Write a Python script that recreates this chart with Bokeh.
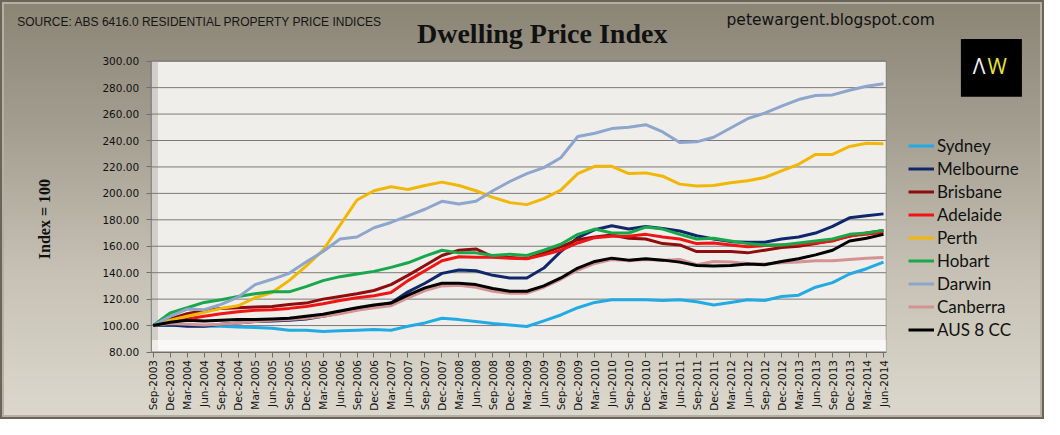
import math
from bokeh.plotting import figure
from bokeh.models import (Range1d, FixedTicker, NumeralTickFormatter, Legend, LegendItem,
                          Label, BoxAnnotation, ColumnDataSource)
from bokeh.embed import file_html
from bokeh.resources import INLINE

quarters = ["Sep-2003", "Dec-2003",
            "Mar-2004", "Jun-2004", "Sep-2004", "Dec-2004",
            "Mar-2005", "Jun-2005", "Sep-2005", "Dec-2005",
            "Mar-2006", "Jun-2006", "Sep-2006", "Dec-2006",
            "Mar-2007", "Jun-2007", "Sep-2007", "Dec-2007",
            "Mar-2008", "Jun-2008", "Sep-2008", "Dec-2008",
            "Mar-2009", "Jun-2009", "Sep-2009", "Dec-2009",
            "Mar-2010", "Jun-2010", "Sep-2010", "Dec-2010",
            "Mar-2011", "Jun-2011", "Sep-2011", "Dec-2011",
            "Mar-2012", "Jun-2012", "Sep-2012", "Dec-2012",
            "Mar-2013", "Jun-2013", "Sep-2013", "Dec-2013",
            "Mar-2014", "Jun-2014"]

y_ticks = [80, 100, 120, 140, 160, 180, 200, 220, 240, 260, 280, 300]

sydney = [100, 100.5, 100, 99.5, 99.5, 99, 98.5, 98, 96.5, 96.5,
          95.5, 96, 96.5, 97, 96.5, 99.5, 102, 105.5, 104.5, 103,
          101.5, 100.5, 99.3, 103.5, 108, 113.5, 117.5, 119.5, 119.5, 119.5,
          119, 119.5, 118, 115.5, 117.5, 119.5, 119, 122, 123, 129,
          132.5, 139, 143, 148]
melbourne = [100, 100.5, 99.5, 99.5, 101, 102, 103, 103.5, 104, 105,
             107, 109.5, 112, 114.5, 117, 125.5, 132, 139.5, 142, 141.5,
             138, 136, 136, 143.5, 156, 166.5, 172.5, 175.5, 173, 175,
             173.5, 171.5, 168, 165.5, 163.5, 163, 163, 165.5, 167, 170,
             175, 181.5, 183, 184.5]
brisbane = [100, 105, 109, 111.5, 113, 113.5, 114, 114.5, 116, 117,
            120, 122, 124, 126.5, 131, 138, 145.5, 153, 157, 158,
            152, 151.5, 150.7, 155, 159.5, 165, 167, 168.5, 166, 165.5,
            162, 161, 156, 156, 156, 155, 157, 159, 160, 162,
            164.5, 167.5, 170, 172]
adelaide = [100, 103, 105, 107, 109, 110.5, 111.5, 112, 113, 114.5,
            116.5, 119, 121, 122.5, 125, 134, 141.5, 149, 152, 151.6,
            151.6, 151, 150.5, 153.5, 157, 162.5, 166.5, 167.5, 167.5, 169,
            167, 165.5, 162, 162.5, 161, 159.6, 160.5, 161, 161.5, 162.5,
            164, 168, 169, 170.5]
perth = [100, 104, 107, 110, 113, 115, 121, 125, 134, 145,
         157, 176, 195, 202, 205, 203, 206, 208.5, 206, 202,
         197, 193, 191.5, 196, 202.5, 215, 220.5, 220.5, 215, 215.5,
         213, 207, 205.5, 206, 208, 209.5, 212, 217, 222, 229.5,
         229.5, 235.5, 238, 237.5]
hobart = [100, 109.5, 113.5, 117.5, 119.5, 122, 124, 125.5, 125.5, 129.5,
          134, 137, 139, 141, 144, 147.5, 152.5, 157, 155, 155,
          153, 154, 153, 157, 161.5, 169, 173, 170, 170, 174.5,
          173, 169, 165.5, 166, 164, 162, 161, 161, 162.5, 164,
          165.5, 169, 170, 172]
darwin = [100, 107, 112.5, 112, 116, 121.5, 131, 135, 139.5, 148,
          156, 165.5, 167, 174, 178, 183, 188, 194, 192, 194,
          202, 209, 215, 219.5, 227, 243, 245.5, 249, 250, 252,
          246.5, 238.5, 239, 242.5, 249.5, 256.5, 260.7, 266, 271, 274,
          274.5, 278, 281, 283]
canberra = [100, 101.5, 101, 100.5, 101, 102, 103, 104, 104.5, 105.5,
            107, 109, 111.5, 113.5, 115, 121, 126.5, 130, 130.5, 129,
            126, 124.5, 124.5, 129, 135, 142, 147, 150, 149, 150,
            149.5, 150, 146, 148.5, 148, 147, 146.5, 147.5, 148, 149,
            149, 150, 151, 151.5]
aus8cc = [100, 102.5, 104, 103.5, 104, 104.5, 104.5, 105, 105.5, 107,
          108.5, 111, 113.5, 115.5, 117, 123, 128.5, 132, 132, 131,
          128, 126, 126, 130, 136, 143.5, 148.5, 151, 149.5, 150.5,
          149.5, 148, 145.5, 145, 145.5, 146.5, 146, 148.5, 150.5, 153.5,
          157, 164, 166, 169]

series_names = ["Sydney", "Melbourne", "Brisbane", "Adelaide", "Perth",
                "Hobart", "Darwin", "Canberra", "AUS 8 CC"]
series_values = [sydney, melbourne, brisbane, adelaide, perth,
                 hobart, darwin, canberra, aus8cc]
series_colors = ["#22AAE2", "#10286A", "#8E0D0D", "#F01515", "#F2B705",
                 "#16A84A", "#8EA5CC", "#D49393", "#000000"]

idx = list(range(len(quarters)))
data = {"x": idx}
for n, v in zip(series_names, series_values):
    data[n] = v
src = ColumnDataSource(data)

W, H = 1044, 419
# plot wall in data units
X0, X1 = -0.12, 43.15
Y0, Y1 = y_ticks[0], y_ticks[-1]
# pixel placement of data (frame = whole canvas)
px0, px43 = 152.7, 883.0
py80, py300 = 351.5, 60.7
sx = (px43 - px0) / 43.0
sy = (py80 - py300) / (Y1 - Y0)
xr = Range1d(-px0 / sx, 43 + (W - px43) / sx)
yr = Range1d(Y0 - (H - py80) / sy, Y1 + py300 / sy)

p = figure(width=W, height=H, output_backend="svg", toolbar_location=None,
           title=None, x_range=xr, y_range=yr,
           min_border_left=0, min_border_right=0,
           min_border_top=0, min_border_bottom=0)

p.border_fill_alpha = 0
p.background_fill_alpha = 0
p.outline_line_color = None
p.styles = {
    "background": "linear-gradient(180deg, #8a8475 0%, #a39d90 30%, #c6c1b4 65%, #dcd8cd 100%)",
    "box-shadow": "inset 0 0 0 2px #6a6558, inset 0 0 0 4px #b5b0a3",
}

# back wall
p.add_layout(BoxAnnotation(left=X0, right=X1, bottom=Y0, top=Y1,
                           fill_color="#EFEEEA", fill_alpha=1,
                           line_color="#2e2e2e", line_width=1, level="underlay"))
# side wall strip and pale floor band (3-D chart imitation)
p.add_layout(BoxAnnotation(left=X0, right=X0 + 0.4, bottom=Y0, top=Y1,
                           fill_color="#C9C7C0", fill_alpha=0.8,
                           line_alpha=0, level="underlay"))
p.add_layout(BoxAnnotation(left=X0, right=X1, bottom=Y0, top=Y0 + 9,
                           fill_color="white", fill_alpha=0.6,
                           line_alpha=0, level="underlay"))
# grid lines
p.segment(x0=[X0] * len(y_ticks), x1=[X1] * len(y_ticks), y0=y_ticks, y1=y_ticks,
          line_color="#7a7a7a", line_width=1)

p.xgrid.grid_line_color = None
p.ygrid.grid_line_color = None

# axes fixed inside the canvas
p.xaxis.fixed_location = Y0
p.xaxis.bounds = (X0, X1)
p.xaxis.ticker = FixedTicker(ticks=idx)
p.xaxis.major_label_overrides = {i: q for i, q in zip(idx, quarters)}
p.xaxis.major_label_orientation = math.pi / 2
p.xaxis.major_label_text_font = "DejaVu Sans"
p.xaxis.major_label_text_font_size = "10.5px"
p.xaxis.major_label_text_color = "#111111"
p.xaxis.major_label_standoff = 3
p.xaxis.minor_tick_line_color = None
p.xaxis.major_tick_in = 0
p.xaxis.major_tick_out = 5
p.xaxis.axis_line_color = "#6e6e6e"
p.xaxis.major_tick_line_color = "#6e6e6e"

p.yaxis.fixed_location = X0
p.yaxis.bounds = (Y0, Y1)
p.yaxis.ticker = FixedTicker(ticks=y_ticks)
p.yaxis.formatter = NumeralTickFormatter(format="0.00")
p.yaxis.major_label_text_font = "DejaVu Sans"
p.yaxis.major_label_text_font_size = "10.5px"
p.yaxis.major_label_text_color = "#111111"
p.yaxis.major_label_standoff = 7
p.yaxis.minor_tick_line_color = None
p.yaxis.major_tick_in = 0
p.yaxis.major_tick_out = 5
p.yaxis.axis_line_color = "#8a8a8a"
p.yaxis.major_tick_line_color = "#6e6e6e"

items = []
for n, c in zip(series_names, series_colors):
    r = p.line(x="x", y=n, source=src, line_width=3, line_color=c, line_join="round")
    items.append(LegendItem(label=n, renderers=[r]))

legend = Legend(items=items, location=(908, 79), orientation="vertical",
                label_text_font="Lato", label_text_font_size="17px",
                label_text_color="#111111",
                glyph_width=26, glyph_height=19, label_height=19, spacing=2,
                padding=0, margin=0, label_standoff=3,
                background_fill_alpha=0, border_line_alpha=0)
p.add_layout(legend)

# texts (screen units relative to canvas bottom-left)
p.add_layout(Label(x=541.7, y=386.5, x_units="screen", y_units="screen",
                   text="Dwelling Price Index", text_font="Liberation Serif",
                   text_font_style="bold", text_font_size="28px",
                   text_color="#111111", text_align="center", text_baseline="middle"))
p.add_layout(Label(x=16.7, y=397.8, x_units="screen", y_units="screen",
                   text="SOURCE: ABS 6416.0 RESIDENTIAL PROPERTY PRICE INDICES",
                   text_font="Liberation Sans", text_font_size="12px",
                   text_color="#151515", text_align="left", text_baseline="middle"))
p.add_layout(Label(x=726, y=399.7, x_units="screen", y_units="screen",
                   text="petewargent.blogspot.com", text_font="DejaVu Sans",
                   text_font_size="15.5px", text_color="#111111",
                   text_align="left", text_baseline="middle"))
p.add_layout(Label(x=44.3, y=200.4, x_units="screen", y_units="screen",
                   text="Index = 100", text_font="Liberation Serif",
                   text_font_style="bold", text_font_size="16px", angle=math.pi / 2,
                   text_color="#111111", text_align="center", text_baseline="middle"))

# logo
p.add_layout(BoxAnnotation(left=960.4, right=1021.4, top=380.5, bottom=322.7,
                           left_units="screen", right_units="screen",
                           top_units="screen", bottom_units="screen",
                           fill_color="black", fill_alpha=1, line_alpha=0))
p.add_layout(Label(x=978.6, y=353.5, x_units="screen", y_units="screen",
                   text="Λ", text_font="Open Sans", text_font_size="21px",
                   text_color="#F2F2F2", text_align="center", text_baseline="middle"))
p.add_layout(Label(x=996.8, y=353.5, x_units="screen", y_units="screen",
                   text="W", text_font="Open Sans", text_font_size="21px",
                   text_color="#E9E23A", text_align="center", text_baseline="middle"))

open("out.html", "w").write(file_html(p, INLINE))
